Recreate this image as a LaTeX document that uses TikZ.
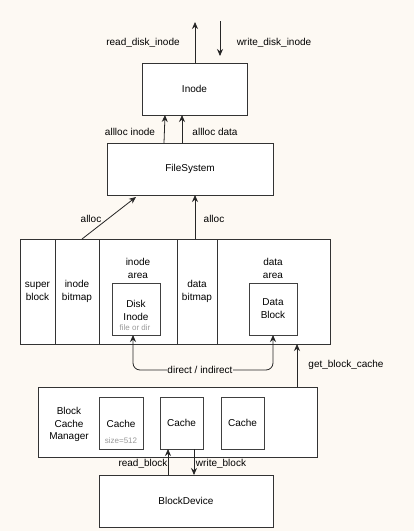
\documentclass[tikz,border=0pt]{standalone}
\usepackage{fontspec}
\setmainfont{Liberation Sans}
\usetikzlibrary{arrows.meta,calc}
\definecolor{bgc}{HTML}{FDF9F3}
\definecolor{graytxt}{HTML}{9A9A9A}
\begin{document}
\begin{tikzpicture}[x=1pt,y=-1pt,
  font=\fontsize{10}{13}\selectfont,
  box/.style={draw=black!80,line width=0.8pt,fill=white,inner sep=0pt,outer sep=0pt,align=center},
  inbox/.style={draw=black!75,line width=1pt,fill=white,inner sep=0pt,outer sep=0pt,align=center},
  lbl/.style={inner sep=1pt,align=center},
  small/.style={font=\fontsize{8}{9}\selectfont,text=graytxt,inner sep=0pt},
  arr/.style={draw=black!85,line width=0.8pt,-{Stealth[length=7pt,width=6pt]}},
  darr/.style={draw=black!85,line width=0.8pt,{Stealth[length=7pt,width=6pt]}-{Stealth[length=7pt,width=6pt]}}]
\fill[bgc] (0,0) rectangle (414,531);
\useasboundingbox (0,0) rectangle (414,531);

% top boxes
\node[box,minimum width=105,minimum height=52] (inode) at (194.5,89) {Inode};
\node[box,minimum width=166,minimum height=52] (fs) at (190,169) {FileSystem};

% disk layout
\node[box,minimum width=35,minimum height=105] (sb) at (37.5,291.5) {super\\block};
\node[box,minimum width=44,minimum height=105] (ib) at (77,291.5) {inode\\bitmap};
\node[box,minimum width=78,minimum height=105] (ia) at (138,291.5) {};
\node[box,minimum width=40,minimum height=105] (db) at (197,291.5) {data\\bitmap};
\node[box,minimum width=113,minimum height=105] (da) at (273.5,291.5) {};
\node[lbl] (ialbl) at (138,268.5) {inode\\area};
\node[lbl] (dalbl) at (273,268.5) {data\\area};
\node[inbox,minimum width=48,minimum height=52] (di) at (136,309) {};
\node[lbl] (ditxt) at (136,310) {Disk\\Inode};
\node[small] (dismall) at (135,328) {file or dir};
\node[inbox,minimum width=48,minimum height=52] (dblk) at (273,309) {Data\\Block};

% block cache manager
\node[box,minimum width=279,minimum height=70] (bcm) at (177.5,422) {};
\node[lbl,font=\fontsize{10}{12.5}\selectfont] (bcmtxt) at (69,424.5) {Block\\Cache\\Manager};
\node[inbox,minimum width=44,minimum height=52] (c1) at (121,423) {};
\node[lbl] (c1txt) at (121,424) {Cache};
\node[small] (c1small) at (121,441) {size=512};
\node[inbox,minimum width=43,minimum height=52] (c2) at (181.5,423) {Cache};
\node[inbox,minimum width=43,minimum height=52] (c3) at (242.5,423) {Cache};

\node[box,minimum width=174,minimum height=52] (bd) at (186,501) {BlockDevice};

% connectors
\coordinate (rdtop) at (195,22);
\draw[arr] ([xshift=0.5pt]inode.north) -- (rdtop);
\coordinate (wdtop) at (220,21);
\coordinate (wdend) at (220,56);
\draw[arr] (wdtop) -- (wdend);
\node[lbl] (rdl) at (143,43) {read\_disk\_inode};
\node[lbl] (wdl) at (274,43) {write\_disk\_inode};

\draw[arr] ([xshift=-26pt]fs.north) -- ([xshift=-29.5pt]inode.south);
\draw[arr] ([xshift=-8pt]fs.north) -- ([xshift=-12.5pt]inode.south);
\node[lbl] (ail) at (130,132) {allloc inode};
\node[lbl] (adl) at (215,132) {allloc data};

\draw[arr] ([xshift=5pt]ib.north) -- ([xshift=29pt,yshift=-2pt]fs.south west);
\draw[arr] ([xshift=-2pt]db.north) -- ([xshift=5pt]fs.south);
\node[lbl] (al1) at (91,219) {alloc};
\node[lbl] (al2) at (214,219) {alloc};

\draw[darr,rounded corners=7pt] ([xshift=-3pt]di.south) -- ([xshift=-3pt,yshift=-35pt]di.south) -| (dblk.south);
\node[lbl,fill=bgc,inner sep=0.5pt] (dil) at (200,370) {direct / indirect};

\draw[arr] ([xshift=119.5pt]bcm.north) -- ([xshift=119.5pt]bcm.north |- da.south);
\node[lbl] (gbl) at (346,365) {get\_block\_cache};

\draw[arr] ([xshift=-18pt]bd.north) -- ([xshift=-13.5pt]c2.south);
\draw[arr] ([xshift=12.5pt]c2.south) -- ([xshift=8pt]bd.north);
\node[lbl] (rbl) at (143,464) {read\_block};
\node[lbl] (wbl) at (221,464) {write\_block};
\end{tikzpicture}
\end{document}
